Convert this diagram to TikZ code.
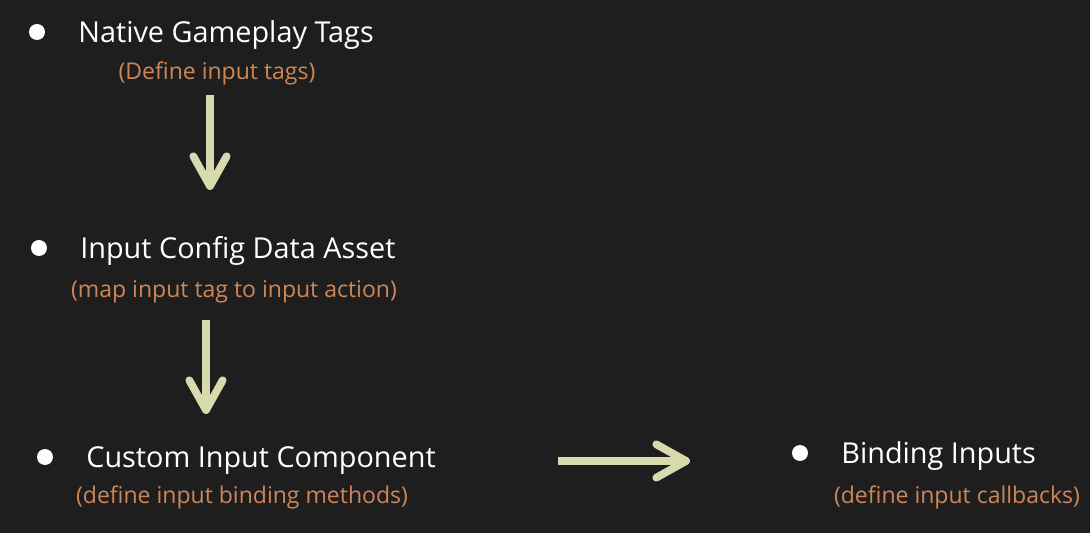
\documentclass[tikz,border=0pt]{standalone}
\usepackage{fontspec}
\setmainfont{Open Sans}
\usetikzlibrary{arrows.meta}
\definecolor{bgdark}{RGB}{30,30,30}
\definecolor{notecol}{RGB}{206,134,88}
\definecolor{arrowcol}{RGB}{214,218,172}
\tikzset{
  dot/.style={circle, fill=white, inner sep=0pt, minimum size=0.32cm},
  title/.style={anchor=base west, text=white, inner sep=0pt, font=\fontsize{16.4}{20}\selectfont},
  note/.style={anchor=base, text=notecol, inner sep=0pt, font=\fontsize{13.1}{16}\selectfont},
  flow/.style={arrowcol, line width=4.4pt, -{Straight Barb[length=17pt,width=19pt,round]}},
}
\begin{document}
\begin{tikzpicture}[x=0.02cm, y=-0.02cm]
			\fill[bgdark] (0,0) rectangle (1090,533);
			% tags
			\node[dot] (dot1) at (37,32) {};
			\node[title] (tags) at (78,43) {Native Gameplay Tags};
			\node[note] (tagsnote) at (217,80) {(Define input tags)};
			% config asset
			\node[dot] (dot2) at (39,248) {};
			\node[title] (config) at (80,259) {Input Config Data Asset};
			\node[note] (confignote) at (234,298) {(map input tag to input action)};
			% component
			\node[dot] (dot3) at (45,457) {};
			\node[title] (comp) at (86,468) {Custom Input Component};
			\node[note] (compnote) at (242,504) {(define input binding methods)};
			% binding
			\node[dot] (dot4) at (800,453) {};
			\node[title] (bind) at (841,464) {Binding Inputs};
			\node[note] (bindnote) at (957,504) {(define input callbacks)};
			% arrows
			\coordinate (a1s) at (210,95);
			\coordinate (a1e) at (210,190);
			\coordinate (a2s) at (206,320);
			\coordinate (a2e) at (206,414);
			\coordinate (a3s) at (558,461);
			\coordinate (a3e) at (690,461);
			\draw[flow] (a1s) -- (a1e);
			\draw[flow] (a2s) -- (a2e);
			\draw[flow] (a3s) -- (a3e);
\end{tikzpicture}
\end{document}
